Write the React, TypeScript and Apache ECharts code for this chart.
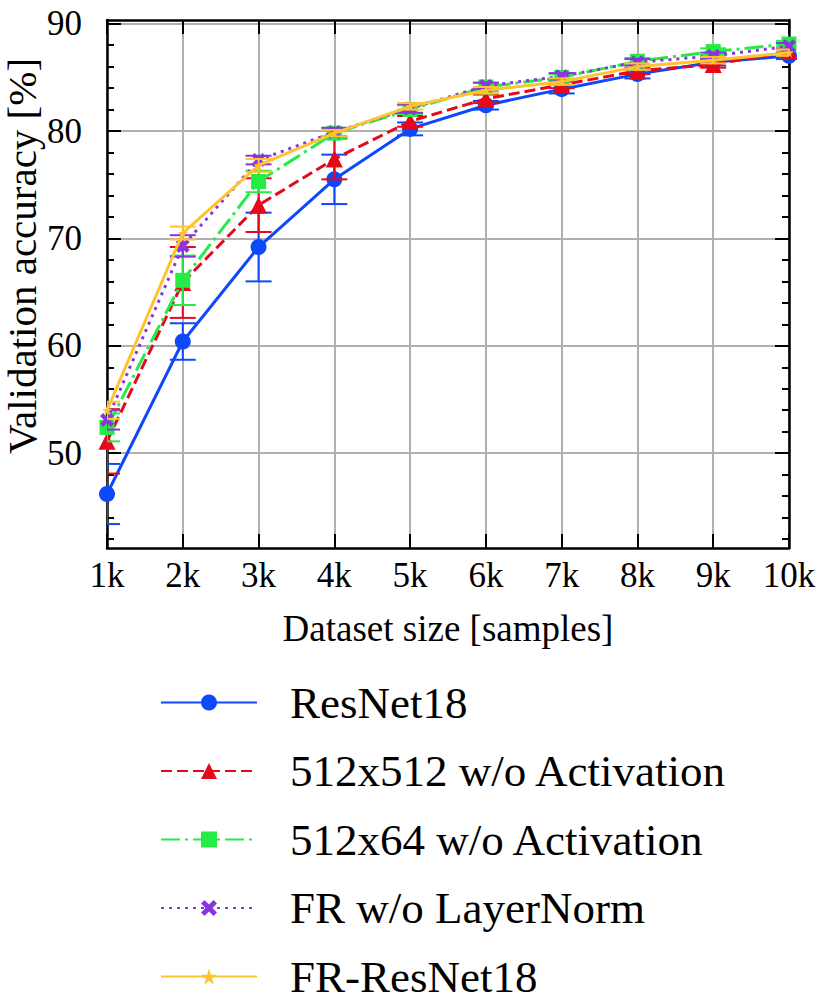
import React, { useEffect, useRef } from "react";
import * as echarts from "echarts";

const X_VALUES = [1000, 2000, 3000, 4000, 5000, 6000, 7000, 8000, 9000, 10000];

const RESNET18 = [46.2, 60.4, 69.2, 75.5, 80.2, 82.4, 83.9, 85.3, 86.4, 87.0];
const RESNET18_ERR = [2.8, 1.7, 3.2, 2.3, 0.6, 0.4, 0.4, 0.4, 0.3, 0.3];

const W512X512 = [51.1, 65.9, 73.1, 77.4, 80.9, 83.0, 84.3, 85.6, 86.2, 87.4];
const W512X512_ERR = [3.0, 3.3, 2.5, 1.9, 0.5, 0.4, 0.3, 0.3, 0.3, 0.3];

const W512X64 = [52.4, 66.1, 75.3, 79.8, 82.0, 84.1, 85.0, 86.5, 87.4, 88.1];
const W512X64_ERR = [1.3, 2.3, 1.0, 0.5, 0.4, 0.4, 0.3, 0.3, 0.3, 0.3];

const FR_NO_LN = [53.1, 69.3, 77.3, 79.9, 82.1, 84.2, 85.1, 86.4, 87.0, 87.9];
const FR_NO_LN_ERR = [0.9, 1.0, 0.4, 0.4, 0.4, 0.3, 0.3, 0.3, 0.3, 0.3];

const FR_RESNET18 = [54.0, 70.5, 76.8, 79.8, 82.3, 83.8, 84.6, 86.0, 86.6, 87.3];
const FR_RESNET18_ERR = [0.8, 0.6, 0.6, 0.3, 0.3, 0.3, 0.3, 0.3, 0.3, 0.3];

const Y_MIN = 41.17;
const Y_MAX = 90.34;
const Y_MAJOR = [50, 60, 70, 80, 90];
const Y_MINOR = [42, 44, 46, 48, 52, 54, 56, 58, 62, 64, 66, 68, 72, 74, 76, 78, 82, 84, 86, 88];

const SERIES_NAMES = [
  "ResNet18",
  "512x512 w/o Activation",
  "512x64 w/o Activation",
  "FR w/o LayerNorm",
  "FR-ResNet18",
];

const FONT = '"Liberation Serif", "Times New Roman", serif';

const X_PATH =
  "path://M0,22 L22,0 L50,28 L78,0 L100,22 L72,50 L100,78 L78,100 L50,72 L22,100 L0,78 L28,50 Z";
const STAR_PATH =
  "path://M50,0 L61,35 L98,35 L68,57 L79,91 L50,70 L21,91 L32,57 L2,35 L39,35 Z";

export default function App() {
  const ref = useRef<HTMLDivElement>(null);

  useEffect(() => {
    document.body.style.margin = "0";
    if (!ref.current) return;
    const chart = echarts.init(ref.current, undefined, { renderer: "svg" });

    const defs = [
      { name: SERIES_NAMES[0], mean: RESNET18, err: RESNET18_ERR, color: "#0d49fb", dash: "solid" as any, symbol: "circle", size: 16 },
      { name: SERIES_NAMES[1], mean: W512X512, err: W512X512_ERR, color: "#e6091c", dash: [11, 5], symbol: "triangle", size: 17 },
      { name: SERIES_NAMES[2], mean: W512X64, err: W512X64_ERR, color: "#26eb47", dash: [19, 5, 3, 5], symbol: "rect", size: 15 },
      { name: SERIES_NAMES[3], mean: FR_NO_LN, err: FR_NO_LN_ERR, color: "#8936df", dash: [3, 5], symbol: X_PATH, size: 14 },
      { name: SERIES_NAMES[4], mean: FR_RESNET18, err: FR_RESNET18_ERR, color: "#fec32d", dash: "solid" as any, symbol: STAR_PATH, size: 10 },
    ];

    const series: any[] = [];
    defs.forEach((d, i) => {
      const errData = X_VALUES.map((x, j) => [x, d.mean[j] - d.err[j], d.mean[j] + d.err[j]]);
      series.push({
        type: "custom",
        name: d.name + " err",
        xAxisIndex: 0,
        yAxisIndex: 0,
        clip: true,
        z: 10 + i * 2,
        silent: true,
        data: errData,
        renderItem: (params: any, api: any) => {
          const x = api.value(0);
          const lo = api.coord([x, api.value(1)]);
          const hi = api.coord([x, api.value(2)]);
          const hw = 13;
          const st = { stroke: d.color, lineWidth: 2 };
          return {
            type: "group",
            children: [
              { type: "line", shape: { x1: lo[0], y1: lo[1], x2: hi[0], y2: hi[1] }, style: st },
              { type: "line", shape: { x1: lo[0] - hw, y1: lo[1], x2: lo[0] + hw, y2: lo[1] }, style: st },
              { type: "line", shape: { x1: hi[0] - hw, y1: hi[1], x2: hi[0] + hw, y2: hi[1] }, style: st },
            ],
          };
        },
      });
      series.push({
        type: "line",
        name: d.name,
        xAxisIndex: 0,
        yAxisIndex: 0,
        z: 11 + i * 2,
        clip: true,
        data: X_VALUES.map((x, j) => [x, d.mean[j]]),
        symbol: d.symbol,
        symbolSize: d.size,
        showAllSymbol: true,
        itemStyle: { color: d.color },
        lineStyle: { color: d.color, width: 3, type: d.dash },
      });
    });

    const axisLineStyle = { show: true, lineStyle: { color: "#000", width: 2.5 } };

    chart.setOption({
      animation: false,
      grid: { left: 107, right: 41, top: 20, bottom: 449, containLabel: false },
      xAxis: [
        {
          type: "value",
          position: "bottom",
          min: 1000,
          max: 10000,
          interval: 1000,
          axisLine: axisLineStyle,
          axisTick: { show: true, inside: true, length: 14, lineStyle: { color: "#000", width: 2 } },
          axisLabel: {
            show: true,
            margin: 10,
            fontFamily: FONT,
            fontSize: 35,
            color: "#000",
            formatter: (v: number) => v / 1000 + "k",
          },
          splitLine: { show: true, lineStyle: { color: "#b0b0b0", width: 2 } },
          name: "Dataset size [samples]",
          nameLocation: "middle",
          nameGap: 62,
          nameTextStyle: { fontFamily: FONT, fontSize: 37, color: "#000", verticalAlign: "top" },
        },
        {
          type: "value",
          position: "top",
          min: 1000,
          max: 10000,
          interval: 1000,
          axisLine: axisLineStyle,
          axisTick: { show: true, inside: true, length: 14, lineStyle: { color: "#000", width: 2 } },
          axisLabel: { show: false },
          splitLine: { show: false },
        },
      ],
      yAxis: [
        {
          type: "value",
          position: "left",
          min: Y_MIN,
          max: Y_MAX,
          axisLine: axisLineStyle,
          axisTick: { show: true, inside: true, length: 14, customValues: Y_MAJOR, lineStyle: { color: "#000", width: 2 } },
          axisLabel: {
            show: true,
            customValues: Y_MAJOR,
            margin: 25,
            fontFamily: FONT,
            fontSize: 35,
            color: "#000",
          },
          splitLine: { show: true, lineStyle: { color: "#b0b0b0", width: 2 } },
        },
        {
          type: "value",
          position: "left",
          min: Y_MIN,
          max: Y_MAX,
          axisLine: { show: false },
          axisTick: { show: true, inside: true, length: 7, customValues: Y_MINOR, lineStyle: { color: "#000", width: 2 } },
          axisLabel: { show: false },
          splitLine: { show: false },
        },
        {
          type: "value",
          position: "right",
          min: Y_MIN,
          max: Y_MAX,
          axisLine: axisLineStyle,
          axisTick: { show: true, inside: true, length: 14, customValues: Y_MAJOR, lineStyle: { color: "#000", width: 2 } },
          axisLabel: { show: false },
          splitLine: { show: false },
        },
        {
          type: "value",
          position: "right",
          min: Y_MIN,
          max: Y_MAX,
          axisLine: { show: false },
          axisTick: { show: true, inside: true, length: 7, customValues: Y_MINOR, lineStyle: { color: "#000", width: 2 } },
          axisLabel: { show: false },
          splitLine: { show: false },
        },
      ],
      legend: {
        orient: "vertical",
        left: 160,
        top: 680,
        height: 340,
        padding: 0,
        itemWidth: 96,
        itemHeight: 20,
        itemGap: 23.5,
        data: SERIES_NAMES,
        selectedMode: false,
        textStyle: {
          fontFamily: FONT,
          fontSize: 45,
          lineHeight: 30,
          color: "#000",
          padding: [0, 0, 0, 28],
        },
      },
      graphic: [
        {
          type: "text",
          x: 22,
          y: 256,
          rotation: Math.PI / 2,
          style: {
            text: "Validation accuracy [%]",
            fontFamily: FONT,
            fontSize: 41,
            fill: "#000",
            align: "center",
            verticalAlign: "middle",
          },
        },
      ],
      series,
    });

    return () => chart.dispose();
  }, []);

  return <div ref={ref} style={{ width: 830, height: 997 }} />;
}
